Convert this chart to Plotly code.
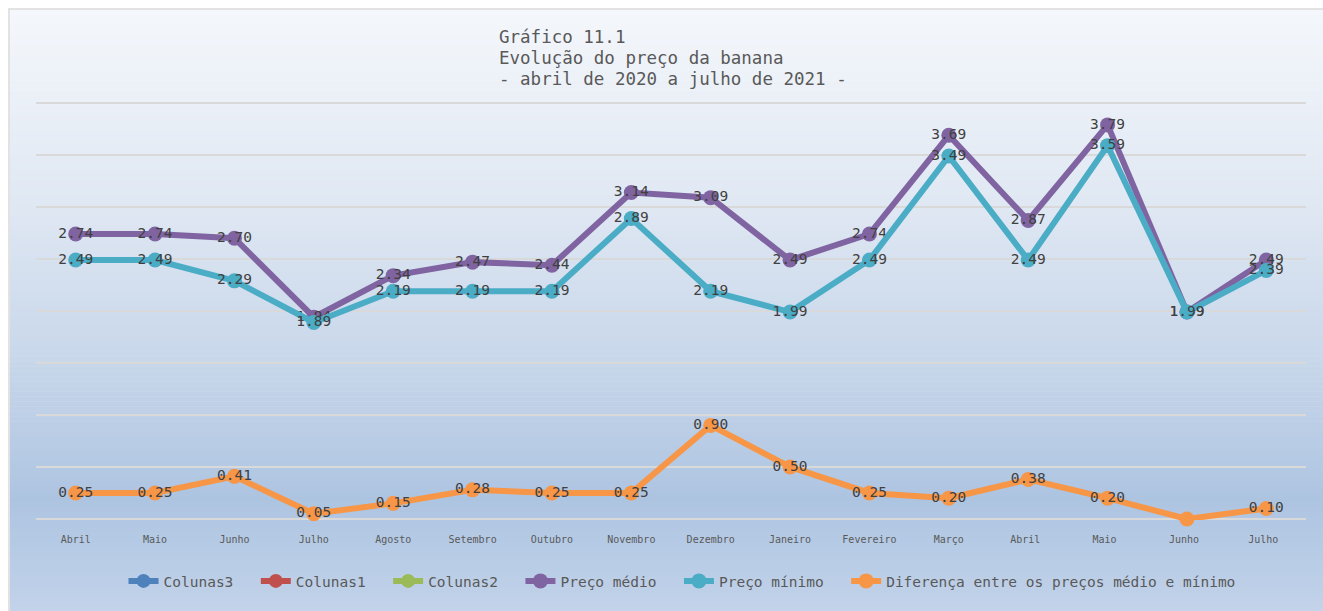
import plotly.graph_objects as go

meses = ["Abril", "Maio", "Junho", "Julho", "Agosto", "Setembro", "Outubro", "Novembro",
         "Dezembro", "Janeiro", "Fevereiro", "Março", "Abril ", "Maio ", "Junho ", "Julho "]
preco_medio = [2.74, 2.74, 2.70, 1.94, 2.34, 2.47, 2.44, 3.14, 3.09, 2.49, 2.74, 3.69, 2.87, 3.79, 1.99, 2.49]
preco_minimo = [2.49, 2.49, 2.29, 1.89, 2.19, 2.19, 2.19, 2.89, 2.19, 1.99, 2.49, 3.49, 2.49, 3.59, 1.99, 2.39]
diferenca = [0.25, 0.25, 0.41, 0.05, 0.15, 0.28, 0.25, 0.25, 0.90, 0.50, 0.25, 0.20, 0.38, 0.20, 0.00, 0.10]
titulo = ["Gráfico 11.1", "Evolução do preço da banana", "- abril de 2020 a julho de 2021 -"]

MONO = "DejaVu Sans Mono"
W, H = 1323, 611
L, R, T, B = 36, 17, 102, 91
pw, ph = W - L - R, H - T - B
PAD = "\u00a0\u00a0"

def px2paper_x(px):
    return (px - L) / pw

def px2paper_y(py):
    return (H - B - py) / ph

fig = go.Figure()

empty = [None] * len(meses)
for name, col in [("Colunas3", "#4f81bd"), ("Colunas1", "#c0504d"), ("Colunas2", "#9bbb59")]:
    fig.add_trace(go.Scatter(x=meses, y=empty, name=name + PAD, mode="lines+markers",
                             line=dict(color=col, width=6), marker=dict(size=14, color=col)))

def lbl(vals, hide_zero=False):
    return ["" if (hide_zero and v == 0) else f"{v:.2f}" for v in vals]

series = [
    ("Preço médio", preco_medio, "#8064a2", False),
    ("Preço mínimo", preco_minimo, "#4bacc6", False),
    ("Diferença entre os preços médio e mínimo", diferenca, "#f79646", True),
]
for name, vals, col, hz in series:
    fig.add_trace(go.Scatter(
        x=meses, y=vals, name=name + PAD, mode="lines+markers+text",
        line=dict(color=col, width=6), marker=dict(size=15, color=col),
        text=lbl(vals, hz), textposition="middle center",
        textfont=dict(family=MONO, size=14.5, color="#404040"),
        cliponaxis=False,
    ))

# gradient background (chart area) as stacked strips
def lerp(c1, c2, t):
    return tuple(round(a + (b - a) * t) for a, b in zip(c1, c2))

stops = [(10, (244, 247, 251)), (200, (224, 232, 243)), (360, (200, 215, 234)),
         (500, (173, 196, 225)), (611, (194, 211, 234))]
shapes = []
N = 120
y_top, y_bot = 10, 612
for i in range(N):
    y0 = y_top + (y_bot - y_top) * i / N
    y1 = y_top + (y_bot - y_top) * (i + 1) / N
    ym = (y0 + y1) / 2
    for j in range(len(stops) - 1):
        if stops[j][0] <= ym <= stops[j + 1][0]:
            t = (ym - stops[j][0]) / (stops[j + 1][0] - stops[j][0])
            c = lerp(stops[j][1], stops[j + 1][1], t)
            break
    shapes.append(dict(type="rect", xref="paper", yref="paper", layer="below",
                       x0=px2paper_x(10), x1=px2paper_x(W + 2),
                       y0=px2paper_y(y1 + 0.5), y1=px2paper_y(y0),
                       fillcolor=f"rgb{c}", line=dict(width=0)))
shapes.append(dict(type="rect", xref="paper", yref="paper", layer="below",
                   x0=px2paper_x(9), x1=px2paper_x(W + 5),
                   y0=px2paper_y(H + 5), y1=px2paper_y(9),
                   fillcolor="rgba(0,0,0,0)", line=dict(color="#d9d9d9", width=1.5)))

annotations = []
for k, line in enumerate(titulo):
    annotations.append(dict(
        text=line, xref="paper", yref="paper", x=px2paper_x(497), y=px2paper_y(37 + 21 * k),
        xanchor="left", yanchor="middle", align="left", showarrow=False,
        font=dict(family=MONO, size=17.5, color="#595959")))

fig.update_layout(
    width=W, height=H,
    margin=dict(l=L, r=R, t=T, b=B),
    paper_bgcolor="white", plot_bgcolor="rgba(0,0,0,0)",
    shapes=shapes,
    showlegend=True,
    legend=dict(orientation="h", x=px2paper_x(691), xanchor="center", y=px2paper_y(581), yanchor="middle",
                font=dict(family=MONO, size=14.5, color="#595959"), bgcolor="rgba(0,0,0,0)",
                itemwidth=30),
    annotations=annotations,
    xaxis=dict(type="category", range=[-0.5, len(meses) - 0.5], showgrid=False, zeroline=False,
               showline=False, ticks="", ticklabelstandoff=12,
               tickfont=dict(family=MONO, size=10, color="#595959")),
    yaxis=dict(range=[-0.01, 4.01], tickvals=[0, 0.5, 1, 1.5, 2, 2.5, 3, 3.5, 4],
               showgrid=True, gridcolor="#d9d9d9", gridwidth=2,
               zeroline=False, showticklabels=False, showline=False),
)

fig.write_html("out.html", config={"displayModeBar": False},
               post_script="document.body.style.margin='0';")
